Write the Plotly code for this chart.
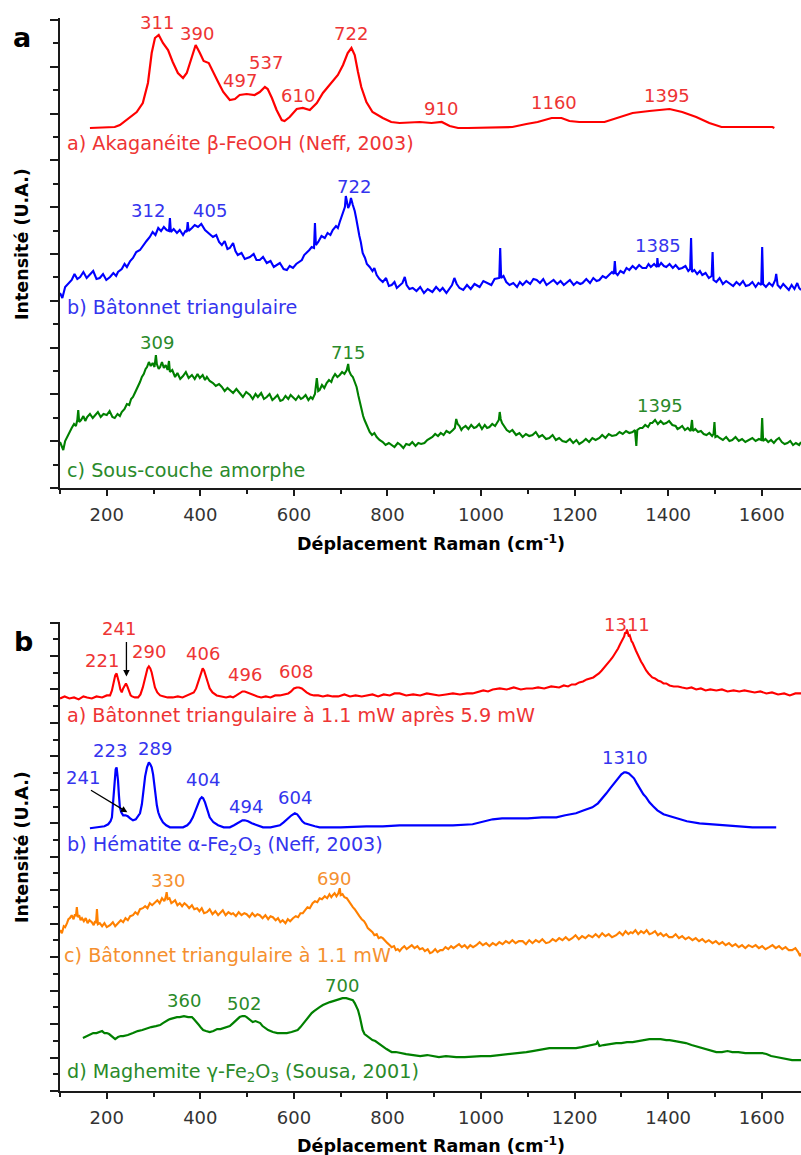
import plotly.graph_objects as go

# ---------------- data (Raman shift cm-1, intensity a.u.) ----------------
# Panel a
A_AKAGANEITE = [
    [164, 360], [217, 361], [228, 363], [249, 371], [264, 376], [277, 385], [288, 405], [296, 435],
    [303, 450], [311, 453], [320, 445], [331, 438], [341, 426], [352, 415], [363, 410], [371, 415],
    [382, 431], [390, 443], [399, 435], [407, 427], [418, 425], [427, 416], [438, 406], [449, 396],
    [463, 388], [474, 389], [484, 393], [499, 394], [516, 393], [527, 396], [538, 401], [544, 399],
    [553, 390], [563, 378], [574, 368], [580, 367], [591, 371], [606, 379], [619, 380], [634, 378],
    [649, 385], [662, 395], [677, 403], [694, 413], [705, 423], [715, 435], [723, 440], [730, 433],
    [737, 416], [744, 401], [755, 386], [768, 376], [790, 370], [808, 366], [826, 365], [869, 366],
    [894, 365], [916, 366], [933, 362], [951, 360], [972, 360], [1067, 361], [1097, 364], [1121, 366],
    [1151, 370], [1172, 370], [1189, 367], [1210, 366], [1264, 366], [1289, 370], [1324, 375],
    [1360, 377], [1403, 379], [1430, 376], [1460, 371], [1488, 365], [1514, 361], [1623, 361], [1627, 360],
]

A_BATONNET = [
    [100, 195], [105, 190], [111, 201], [117, 204], [125, 208], [131, 214], [137, 209], [143, 211],
    [150, 216], [157, 210], [164, 213], [171, 217], [178, 209], [185, 210], [192, 214], [199, 208],
    [207, 211], [214, 215], [220, 212], [224, 216], [232, 219], [238, 224], [243, 221], [250, 227],
    [256, 230], [263, 236], [271, 238], [278, 243], [285, 247], [292, 251], [298, 256], [304, 253],
    [310, 260], [316, 257], [322, 261], [328, 258], [333, 257], [335, 270], [337, 256], [343, 259],
    [350, 255], [356, 258], [363, 253], [368, 257], [371, 256], [373, 266], [375, 257], [382, 260],
    [388, 263], [395, 261], [402, 264], [410, 258], [418, 255], [427, 251], [434, 253], [440, 246],
    [446, 243], [452, 247], [458, 239], [463, 240], [470, 245], [475, 237], [480, 233], [488, 235],
    [495, 229], [506, 231], [514, 234], [520, 228], [527, 228], [534, 231], [542, 225], [550, 227],
    [557, 221], [563, 223], [570, 225], [578, 219], [585, 218], [591, 222], [598, 220], [605, 224],
    [611, 226], [617, 228], [622, 233], [627, 235], [633, 238], [638, 241], [643, 240], [645, 265],
    [647, 243], [652, 246], [659, 252], [666, 250], [672, 255], [678, 253], [683, 258], [690, 262],
    [694, 260], [698, 266], [703, 272], [706, 276], [709, 281], [711, 292], [713, 288], [716, 280],
    [719, 283], [722, 290], [726, 283], [730, 277], [733, 270], [736, 261], [740, 252], [743, 246],
    [747, 235], [752, 230], [756, 224], [762, 221], [768, 217], [772, 220], [777, 213], [783, 209],
    [790, 206], [797, 210], [803, 202], [809, 203], [815, 206], [820, 200], [826, 203], [832, 205],
    [837, 211], [841, 203], [847, 199], [854, 200], [862, 197], [870, 201], [878, 195], [886, 199],
    [896, 196], [904, 201], [912, 197], [918, 200], [926, 195], [932, 199], [938, 203], [943, 210],
    [948, 204], [954, 200], [962, 198], [970, 203], [978, 199], [986, 204], [997, 201], [1005, 207],
    [1014, 205], [1022, 203], [1029, 209], [1036, 210], [1039, 210], [1041, 240], [1043, 210],
    [1048, 212], [1054, 206], [1061, 203], [1069, 205], [1077, 201], [1083, 206], [1089, 203],
    [1097, 207], [1105, 204], [1112, 209], [1119, 208], [1126, 205], [1133, 209], [1140, 203],
    [1146, 205], [1155, 208], [1163, 204], [1170, 207], [1177, 203], [1182, 205], [1190, 208],
    [1198, 203], [1205, 206], [1212, 204], [1217, 205], [1225, 209], [1233, 205], [1240, 210],
    [1247, 207], [1253, 208], [1260, 212], [1267, 210], [1274, 213], [1280, 216], [1284, 214],
    [1286, 227], [1288, 215], [1292, 213], [1298, 217], [1305, 215], [1311, 220], [1317, 218],
    [1324, 222], [1331, 219], [1338, 223], [1345, 220], [1353, 220], [1358, 224], [1363, 221],
    [1370, 224], [1376, 221], [1377, 230], [1379, 221], [1385, 225], [1391, 222], [1396, 221],
    [1403, 224], [1410, 220], [1416, 223], [1423, 219], [1430, 220], [1437, 222], [1443, 217],
    [1447, 219], [1449, 250], [1451, 216], [1456, 218], [1462, 214], [1468, 217], [1473, 213],
    [1480, 215], [1487, 210], [1493, 212], [1495, 236], [1497, 208], [1503, 206], [1510, 210],
    [1517, 204], [1524, 207], [1531, 205], [1539, 202], [1546, 206], [1553, 203], [1560, 207],
    [1566, 202], [1573, 203], [1580, 206], [1587, 201], [1593, 205], [1599, 203], [1601, 241],
    [1603, 204], [1609, 201], [1616, 205], [1623, 202], [1629, 208], [1631, 214], [1634, 203],
    [1640, 200], [1646, 204], [1652, 201], [1658, 198], [1664, 203], [1670, 199], [1676, 205],
    [1680, 200], [1684, 198],
]

A_SOUS_COUCHE = [
    [100, 46], [104, 40], [107, 38], [111, 47], [115, 51], [120, 56], [125, 60], [130, 64], [134, 62],
    [137, 68], [139, 78], [141, 66], [145, 68], [150, 72], [154, 67], [158, 71], [164, 74], [170, 70],
    [175, 73], [181, 76], [187, 71], [193, 74], [200, 73], [206, 77], [212, 71], [217, 70], [223, 74],
    [228, 72], [232, 76], [238, 79], [243, 84], [248, 83], [252, 89], [256, 91], [260, 95], [264, 99],
    [267, 101], [271, 106], [275, 111], [279, 114], [283, 119], [286, 121], [290, 126], [294, 122],
    [298, 125], [302, 121], [305, 133], [307, 124], [311, 119], [314, 121], [318, 126], [322, 120],
    [326, 123], [330, 118], [333, 127], [335, 116], [340, 118], [346, 111], [351, 115], [357, 109],
    [363, 112], [369, 116], [375, 110], [382, 113], [388, 109], [394, 114], [399, 110], [405, 113],
    [410, 108], [414, 111], [420, 107], [427, 105], [433, 102], [440, 104], [446, 101], [452, 97],
    [458, 100], [463, 98], [470, 95], [477, 99], [484, 95], [491, 91], [498, 96], [506, 93], [512, 89],
    [518, 94], [523, 91], [530, 95], [536, 89], [542, 91], [548, 94], [554, 88], [559, 90], [565, 93],
    [571, 87], [576, 88], [582, 92], [588, 89], [593, 93], [598, 91], [604, 88], [610, 92], [615, 89],
    [619, 90], [625, 93], [631, 88], [636, 91], [640, 89], [645, 94], [649, 110], [652, 97], [655, 98],
    [660, 103], [665, 100], [670, 105], [675, 108], [680, 106], [683, 110], [688, 114], [693, 111],
    [698, 113], [703, 116], [708, 114], [713, 118], [716, 124], [718, 117], [722, 113], [726, 111],
    [730, 105], [734, 101], [738, 92], [741, 85], [745, 78], [748, 72], [751, 68], [755, 63], [759, 60],
    [762, 56], [767, 53], [772, 55], [777, 51], [783, 48], [790, 46], [796, 43], [803, 45], [809, 43],
    [815, 41], [822, 45], [828, 43], [834, 40], [840, 44], [847, 43], [853, 46], [860, 42], [866, 45],
    [872, 44], [879, 45], [885, 48], [890, 49], [896, 51], [902, 54], [908, 52], [914, 55], [920, 53],
    [926, 57], [933, 55], [940, 58], [944, 60], [947, 69], [950, 64], [954, 62], [958, 58], [961, 60],
    [967, 62], [973, 59], [979, 63], [985, 60], [990, 61], [996, 64], [1002, 59], [1008, 63], [1013, 60],
    [1018, 61], [1024, 64], [1030, 62], [1035, 66], [1038, 68], [1040, 76], [1042, 69], [1045, 65],
    [1050, 61], [1055, 58], [1061, 56], [1067, 58], [1075, 53], [1082, 55], [1089, 51], [1096, 54],
    [1103, 52], [1110, 53], [1117, 56], [1124, 51], [1131, 53], [1139, 49], [1146, 50], [1153, 53],
    [1160, 48], [1167, 50], [1174, 47], [1182, 46], [1190, 49], [1197, 45], [1204, 48], [1210, 44],
    [1217, 46], [1224, 49], [1231, 46], [1238, 50], [1245, 48], [1253, 50], [1259, 53], [1266, 50],
    [1273, 54], [1280, 52], [1289, 53], [1296, 56], [1303, 54], [1310, 57], [1317, 55], [1324, 56],
    [1329, 58], [1332, 42], [1334, 58], [1340, 60], [1345, 60], [1351, 63], [1357, 61], [1362, 65],
    [1366, 65], [1372, 68], [1378, 64], [1384, 67], [1390, 64], [1396, 65], [1402, 67], [1409, 63],
    [1416, 62], [1420, 59], [1424, 60], [1430, 62], [1436, 58], [1442, 60], [1448, 57], [1451, 68],
    [1453, 57], [1458, 59], [1464, 56], [1470, 57], [1476, 54], [1482, 53], [1488, 55], [1494, 52],
    [1497, 54], [1499, 66], [1501, 51], [1505, 52], [1510, 50], [1517, 48], [1524, 51], [1531, 47],
    [1537, 48], [1544, 51], [1551, 47], [1558, 49], [1565, 46], [1573, 48], [1580, 50], [1587, 47],
    [1594, 49], [1599, 48], [1601, 70], [1603, 47], [1608, 49], [1614, 46], [1620, 48], [1626, 45],
    [1631, 48], [1637, 50], [1643, 46], [1649, 44], [1655, 45], [1661, 47], [1667, 43], [1673, 45],
    [1680, 43], [1684, 46],
]

# Panel b
B_APRES = [
    [100, 393], [110, 395], [120, 393], [130, 394], [140, 392], [150, 395], [158, 394], [168, 393],
    [178, 395], [190, 394], [200, 396], [207, 396], [211, 401], [215, 411], [218, 416], [221, 418],
    [223, 415], [226, 409], [229, 402], [232, 399], [235, 403], [238, 406], [241, 408], [244, 405],
    [247, 400], [251, 396], [254, 395], [260, 394], [267, 394], [272, 397], [277, 404], [281, 412],
    [284, 418], [287, 423], [290, 425], [293, 423], [296, 419], [299, 412], [303, 404], [308, 399],
    [314, 396], [322, 395], [330, 394], [341, 394], [352, 395], [362, 394], [372, 396], [380, 397],
    [386, 399], [391, 403], [395, 409], [399, 416], [402, 420], [405, 423], [408, 421], [412, 416],
    [416, 409], [420, 403], [426, 399], [435, 396], [445, 395], [455, 394], [464, 395], [470, 394],
    [477, 396], [484, 398], [490, 400], [495, 400], [500, 399], [506, 398], [514, 396], [522, 395],
    [530, 394], [540, 395], [550, 394], [560, 396], [570, 396], [580, 397], [588, 398], [594, 400],
    [600, 403], [606, 404], [611, 404], [617, 403], [622, 401], [627, 399], [635, 397], [643, 396],
    [652, 396], [662, 395], [672, 396], [683, 395], [695, 395], [708, 397], [720, 395], [732, 396],
    [745, 395], [755, 396], [768, 397], [780, 395], [792, 397], [805, 396], [815, 398], [826, 398],
    [840, 396], [855, 397], [870, 396], [884, 398], [896, 397], [910, 396], [925, 397], [940, 398],
    [955, 397], [970, 398], [982, 398], [995, 400], [1005, 401], [1015, 400], [1025, 402], [1040, 403],
    [1055, 402], [1070, 404], [1085, 402], [1097, 403], [1110, 403], [1122, 404], [1135, 403],
    [1150, 405], [1160, 404], [1167, 404], [1177, 406], [1186, 405], [1194, 407], [1202, 407],
    [1210, 409], [1218, 410], [1226, 412], [1233, 413], [1240, 414], [1246, 416], [1252, 418],
    [1258, 421], [1264, 424], [1270, 428], [1276, 431], [1281, 434], [1285, 437], [1289, 439],
    [1293, 443], [1297, 447], [1300, 450], [1303, 452], [1306, 455], [1308, 459], [1310, 458],
    [1312, 462], [1314, 457], [1316, 455], [1318, 456], [1320, 452], [1322, 450], [1324, 449],
    [1327, 445], [1331, 441], [1334, 438], [1338, 433], [1342, 430], [1346, 427], [1349, 424],
    [1353, 421], [1358, 418], [1362, 416], [1366, 414], [1372, 413], [1378, 411], [1384, 410],
    [1390, 408], [1396, 408], [1403, 406], [1412, 405], [1421, 405], [1430, 404], [1440, 403],
    [1450, 404], [1460, 402], [1470, 403], [1480, 401], [1490, 402], [1503, 401], [1515, 402],
    [1527, 400], [1540, 401], [1552, 400], [1563, 401], [1573, 400], [1585, 399], [1597, 400],
    [1610, 398], [1622, 399], [1635, 397], [1648, 398], [1660, 396], [1672, 398], [1684, 398],
]

B_HEMATITE = [
    [164, 263], [180, 264], [195, 265], [203, 267], [208, 270], [211, 274], [213, 285], [215, 304],
    [217, 316], [219, 322], [221, 324], [222, 321], [224, 311], [226, 296], [228, 284], [231, 279],
    [235, 276], [240, 276], [245, 275], [250, 273], [256, 271], [262, 272], [267, 275], [271, 278],
    [275, 287], [279, 304], [282, 315], [286, 324], [288, 328], [290, 329], [293, 327], [296, 324],
    [299, 317], [303, 298], [307, 286], [310, 279], [314, 274], [320, 269], [327, 266], [335, 264],
    [350, 264], [363, 264], [372, 266], [378, 269], [384, 274], [390, 281], [395, 288], [399, 292],
    [403, 294], [406, 293], [410, 289], [415, 281], [420, 274], [428, 269], [438, 266], [450, 264],
    [463, 264], [472, 266], [479, 268], [484, 269], [490, 271], [495, 271], [502, 270], [510, 268],
    [520, 266], [534, 264], [550, 264], [562, 265], [570, 266], [578, 269], [587, 273], [595, 276],
    [602, 278], [607, 277], [612, 274], [618, 270], [623, 268], [635, 266], [645, 265], [655, 264],
    [700, 264], [755, 265], [790, 265], [826, 266], [860, 266], [890, 266], [940, 266], [982, 267],
    [1000, 269], [1015, 271], [1025, 272], [1045, 273], [1061, 273], [1100, 273], [1130, 274],
    [1161, 274], [1180, 276], [1203, 278], [1220, 281], [1238, 284], [1250, 288], [1260, 293],
    [1268, 298], [1276, 303], [1284, 308], [1292, 313], [1300, 317], [1306, 319], [1310, 319],
    [1316, 318], [1322, 315], [1327, 313], [1333, 308], [1340, 302], [1347, 297], [1353, 294],
    [1360, 289], [1368, 285], [1377, 281], [1390, 277], [1403, 275], [1417, 273], [1440, 270],
    [1467, 268], [1500, 267], [1537, 266], [1560, 265], [1580, 264], [1631, 264],
]

B_BATONNET = [
    [100, 161], [104, 158], [108, 165], [111, 164], [115, 168], [118, 172], [121, 173], [125, 176],
    [129, 172], [132, 177], [134, 175], [136, 184], [138, 174], [141, 176], [144, 171], [147, 173],
    [151, 170], [155, 173], [159, 168], [163, 171], [168, 169], [172, 166], [175, 170], [177, 168],
    [179, 182], [181, 167], [185, 168], [190, 165], [195, 168], [200, 164], [207, 166], [213, 169],
    [218, 165], [224, 168], [230, 171], [235, 169], [240, 173], [245, 171], [250, 175], [256, 176],
    [261, 179], [266, 177], [271, 182], [277, 183], [282, 185], [287, 183], [292, 188], [297, 186],
    [303, 189], [308, 191], [313, 188], [318, 193], [323, 190], [326, 194], [328, 199], [330, 192],
    [334, 193], [338, 188], [341, 189], [346, 191], [351, 186], [356, 188], [361, 185], [366, 188],
    [371, 186], [376, 183], [382, 186], [387, 182], [393, 183], [398, 180], [403, 183], [408, 178],
    [414, 179], [420, 182], [426, 177], [432, 180], [438, 176], [442, 178], [448, 181], [454, 176],
    [460, 179], [466, 177], [470, 178], [476, 175], [482, 179], [488, 176], [494, 178], [499, 177],
    [505, 174], [511, 178], [517, 175], [522, 177], [527, 176], [533, 173], [539, 176], [545, 172],
    [550, 175], [555, 174], [561, 171], [566, 173], [571, 169], [576, 171], [582, 168], [587, 172],
    [592, 170], [598, 173], [604, 175], [609, 174], [614, 178], [619, 178], [624, 181], [629, 184],
    [634, 183], [640, 188], [645, 190], [650, 189], [655, 193], [660, 192], [666, 195], [671, 193],
    [676, 197], [680, 194], [683, 196], [687, 198], [691, 195], [695, 198], [698, 203], [700, 196],
    [704, 197], [708, 194], [713, 193], [717, 190], [721, 188], [726, 184], [730, 182], [735, 178],
    [740, 175], [745, 172], [750, 170], [754, 167], [758, 163], [763, 161], [768, 159], [772, 156],
    [777, 157], [781, 153], [786, 154], [790, 153], [795, 150], [800, 148], [805, 146], [809, 144],
    [814, 145], [818, 141], [822, 142], [826, 140], [831, 143], [836, 145], [841, 142], [847, 144],
    [852, 146], [858, 143], [864, 145], [869, 142], [875, 143], [880, 140], [886, 142], [891, 138],
    [896, 139], [902, 142], [907, 139], [913, 141], [918, 141], [924, 144], [930, 142], [936, 145],
    [941, 143], [947, 145], [953, 147], [959, 144], [965, 146], [971, 143], [977, 146], [983, 144],
    [990, 146], [997, 149], [1004, 146], [1011, 148], [1018, 145], [1025, 148], [1032, 146],
    [1039, 149], [1046, 147], [1053, 150], [1060, 148], [1067, 151], [1074, 148], [1081, 150],
    [1089, 150], [1096, 147], [1103, 151], [1110, 148], [1117, 151], [1124, 149], [1131, 152],
    [1139, 148], [1146, 149], [1153, 152], [1160, 150], [1167, 153], [1174, 151], [1181, 154],
    [1188, 151], [1195, 153], [1202, 156], [1209, 152], [1216, 155], [1223, 153], [1230, 156],
    [1238, 154], [1245, 157], [1252, 154], [1259, 158], [1266, 155], [1273, 157], [1280, 154],
    [1289, 156], [1296, 159], [1303, 156], [1309, 160], [1315, 157], [1320, 159], [1324, 158],
    [1330, 161], [1336, 157], [1342, 160], [1348, 158], [1354, 161], [1360, 157], [1366, 158],
    [1372, 160], [1378, 156], [1384, 158], [1390, 155], [1396, 157], [1402, 154], [1409, 154],
    [1416, 157], [1423, 153], [1430, 155], [1437, 152], [1444, 154], [1452, 151], [1459, 153],
    [1466, 150], [1473, 152], [1480, 149], [1487, 151], [1495, 148], [1502, 150], [1509, 147],
    [1516, 149], [1523, 146], [1530, 148], [1537, 145], [1544, 147], [1551, 144], [1558, 146],
    [1565, 143], [1572, 146], [1580, 144], [1587, 146], [1594, 143], [1601, 145], [1608, 142],
    [1616, 144], [1623, 146], [1630, 143], [1637, 145], [1644, 142], [1651, 144], [1658, 141],
    [1665, 141], [1672, 143], [1678, 139], [1682, 135], [1684, 138],
]

B_MAGHEMITE = [
    [149, 53], [158, 55], [165, 57], [171, 58], [178, 58], [185, 59], [190, 60], [195, 58], [200, 58],
    [205, 57], [210, 55], [214, 53], [218, 52], [224, 54], [230, 55], [235, 55], [245, 56], [256, 58],
    [266, 60], [276, 61], [286, 63], [295, 64], [305, 65], [314, 66], [320, 68], [326, 70], [331, 71],
    [335, 72], [342, 73], [350, 74], [356, 74], [365, 75], [374, 74], [382, 74], [386, 72], [390, 70],
    [393, 69], [397, 66], [402, 63], [406, 61], [412, 60], [420, 59], [428, 60], [436, 62], [443, 62],
    [449, 63], [456, 64], [463, 65], [470, 68], [475, 70], [480, 72], [484, 74], [490, 75], [495, 75],
    [499, 74], [504, 72], [508, 70], [512, 69], [518, 70], [523, 69], [528, 68], [533, 65], [538, 63],
    [545, 61], [555, 59], [565, 58], [575, 58], [585, 58], [595, 59], [602, 60], [608, 61], [614, 64],
    [619, 67], [623, 69], [628, 72], [633, 75], [638, 78], [643, 80], [648, 82], [655, 84], [662, 86],
    [670, 88], [677, 89], [684, 90], [691, 91], [697, 92], [704, 93], [712, 93], [720, 92], [726, 91],
    [730, 88], [734, 84], [737, 81], [741, 74], [744, 67], [747, 61], [751, 57], [756, 55], [762, 53],
    [768, 51], [774, 50], [777, 49], [783, 47], [790, 44], [798, 42], [805, 40], [809, 39], [818, 39],
    [826, 38], [840, 37], [855, 36], [870, 35], [885, 36], [896, 35], [910, 34], [925, 35], [947, 34],
    [965, 34], [985, 35], [1000, 35], [1020, 35], [1040, 36], [1054, 37], [1068, 37], [1080, 38],
    [1097, 39], [1110, 40], [1122, 41], [1135, 42], [1146, 43], [1160, 43], [1175, 43], [1190, 43],
    [1203, 43], [1215, 44], [1228, 45], [1240, 46], [1246, 47], [1249, 49], [1251, 47], [1253, 45],
    [1262, 46], [1275, 47], [1289, 48], [1300, 48], [1312, 49], [1324, 49], [1336, 50], [1348, 51],
    [1360, 52], [1372, 52], [1384, 52], [1396, 51], [1403, 51], [1415, 50], [1427, 49], [1438, 48],
    [1450, 46], [1458, 45], [1467, 44], [1478, 42], [1490, 41], [1503, 39], [1515, 39], [1527, 40],
    [1537, 39], [1550, 39], [1565, 38], [1580, 38], [1590, 38], [1601, 38], [1610, 37], [1620, 35],
    [1631, 34], [1642, 33], [1653, 32], [1665, 31], [1675, 31], [1684, 31],
]

# peak labels (text, Raman shift of label, intensity of label)
A_PEAKS_RED = [["311", 308, 466], ["390", 393, 455], ["497", 485, 408], ["537", 541, 426],
               ["610", 609, 393], ["722", 723, 455], ["910", 915, 380], ["1160", 1157, 386],
               ["1395", 1398, 393]]
A_PEAKS_BLUE = [["312", 289, 278], ["405", 421, 278], ["722", 729, 302], ["1385", 1379, 243]]
A_PEAKS_GREEN = [["309", 308, 146], ["715", 716, 136], ["1395", 1383, 83]]
B_PEAKS_RED = [["221", 190, 431], ["241", 227, 463], ["290", 291, 440], ["406", 406, 438],
               ["496", 496, 417], ["608", 605, 420], ["1311", 1312, 467]]
B_PEAKS_BLUE = [["223", 207, 341], ["289", 304, 343], ["241", 150, 314], ["404", 406, 312],
                ["494", 498, 285], ["604", 603, 294], ["1310", 1308, 334]]
B_PEAKS_ORANGE = [["330", 330, 211], ["690", 686, 213]]
B_PEAKS_GREEN = [["360", 366, 91], ["502", 494, 88], ["700", 702, 106]]

A_NAMES = ["a) Akaganéite β-FeOOH (Neff, 2003)", "b) Bâtonnet triangulaire", "c) Sous-couche amorphe"]
B_NAMES = ["a) Bâtonnet triangulaire à 1.1 mW après 5.9 mW",
           "b) Hématite α-Fe<sub>2</sub>O<sub>3</sub> (Neff, 2003)",
           "c) Bâtonnet triangulaire à 1.1 mW",
           "d) Maghemite γ-Fe<sub>2</sub>O<sub>3</sub> (Sousa, 2001)"]

# ---------------- figure ----------------
W, H = 801, 1155
FONT = "DejaVu Sans"
RED, BLUE, GREEN, ORANGE = "#FF0000", "#0000FF", "#008000", "#FF8000"
RED_T, BLUE_T, GREEN_T, ORANGE_T = "#EE3434", "#3434EE", "#2A8A2A", "#F5902F"


def pxx(x):
    return x / W


def pxy(y):
    return 1 - y / H


fig = go.Figure()


def add_series(data, color, xa, ya, width=2):
    xs = [p[0] for p in data]
    ys = [p[1] for p in data]
    fig.add_trace(go.Scatter(x=xs, y=ys, mode="lines", xaxis=xa, yaxis=ya,
                             line=dict(color=color, width=width), showlegend=False,
                             hoverinfo="skip"))


add_series(A_AKAGANEITE, RED, "x", "y", 2.2)
add_series(A_BATONNET, BLUE, "x", "y", 2.1)
add_series(A_SOUS_COUCHE, GREEN, "x", "y", 2.1)
add_series(B_APRES, RED, "x2", "y2", 2.1)
add_series(B_HEMATITE, BLUE, "x2", "y2", 2.2)
add_series(B_BATONNET, ORANGE, "x2", "y2", 2.1)
add_series(B_MAGHEMITE, GREEN, "x2", "y2", 2.2)

ann = []


def label(text, x, y, color, xr, yr, xanchor="center", size=18):
    ann.append(dict(text=text, x=x, y=y, xref=xr, yref=yr, showarrow=False,
                    xanchor=xanchor, yanchor="middle",
                    font=dict(family=FONT, size=size, color=color)))


for peaks, col in [(A_PEAKS_RED, RED_T), (A_PEAKS_BLUE, BLUE_T), (A_PEAKS_GREEN, GREEN_T)]:
    for t, x, y in peaks:
        label(t, x, y, col, "x", "y")
for peaks, col in [(B_PEAKS_RED, RED_T), (B_PEAKS_BLUE, BLUE_T), (B_PEAKS_ORANGE, ORANGE_T),
                   (B_PEAKS_GREEN, GREEN_T)]:
    for t, x, y in peaks:
        label(t, x, y, col, "x2", "y2")

NS = 19.2
label(A_NAMES[0], 111, 345, RED_T, "x", "y", "left", NS)
label(A_NAMES[1], 111, 181, BLUE_T, "x", "y", "left", NS)
label(A_NAMES[2], 111, 18, GREEN_T, "x", "y", "left", NS)
label(B_NAMES[0], 111, 376, RED_T, "x2", "y2", "left", NS)
label(B_NAMES[1], 111, 246, BLUE_T, "x2", "y2", "left", NS)
label(B_NAMES[2], 105, 136, ORANGE_T, "x2", "y2", "left", NS)
label(B_NAMES[3], 111, 19, GREEN_T, "x2", "y2", "left", NS)

# arrows pointing at 241 shoulders
for (hx, hy, tx, ty) in [(242, 415, 242, 451), (244, 279, 163, 302)]:
    ann.append(dict(text="", x=hx, y=hy, ax=tx, ay=ty, xref="x2", yref="y2", axref="x2", ayref="y2",
                    showarrow=True, arrowhead=2, arrowsize=1, arrowwidth=1.3, arrowcolor="black",
                    standoff=0, startstandoff=0))

# titles and panel letters
for yc in (244, 847):
    ann.append(dict(text="<b>Intensité (U.A.)</b>", x=pxx(22), y=pxy(yc), xref="paper", yref="paper",
                    showarrow=False, textangle=-90, xanchor="center", yanchor="middle",
                    font=dict(family=FONT, size=17.5, color="black")))
for yc in (543, 1145):
    ann.append(dict(text="<b>Déplacement Raman (cm<sup>-1</sup>)</b>", x=pxx(431), y=pxy(yc),
                    xref="paper", yref="paper", showarrow=False, xanchor="center", yanchor="middle",
                    font=dict(family=FONT, size=17.5, color="black")))
ann.append(dict(text="<b>a</b>", x=pxx(22), y=pxy(38), xref="paper", yref="paper", showarrow=False,
                xanchor="center", yanchor="middle", font=dict(family=FONT, size=27, color="black")))
ann.append(dict(text="<b>b</b>", x=pxx(23), y=pxy(641), xref="paper", yref="paper", showarrow=False,
                xanchor="center", yanchor="middle", font=dict(family=FONT, size=27, color="black")))

AXC = "#1a1a1a"
xcommon = dict(range=[100, 1684], showgrid=False, zeroline=False, showline=True, linecolor=AXC,
               linewidth=1.6, ticks="outside", ticklen=6, tickwidth=1.5, tickcolor=AXC,
               tick0=200, dtick=200, ticklabelstandoff=4,
               tickfont=dict(family=FONT, size=18, color="#333333"),
               minor=dict(ticks="outside", ticklen=4, tickwidth=1.5, tickcolor=AXC, tick0=100, dtick=100),
               domain=[pxx(60), 1.0])
ycommon = dict(showgrid=False, zeroline=False, showline=True, linecolor=AXC, linewidth=1.6,
               ticks="outside", ticklen=8, tickwidth=1.5, tickcolor=AXC, showticklabels=False,
               tick0=0)

fig.update_layout(
    width=W, height=H, margin=dict(l=0, r=0, t=0, b=0),
    paper_bgcolor="white", plot_bgcolor="white",
    xaxis=dict(**xcommon, anchor="y"),
    yaxis=dict(**ycommon, anchor="x", range=[0, 470], dtick=46.8,
               minor=dict(ticks="outside", ticklen=5, tickwidth=1.5, tickcolor=AXC, tick0=0, dtick=23.4),
               domain=[pxy(488), pxy(18)]),
    xaxis2=dict(**xcommon, anchor="y2"),
    yaxis2=dict(**ycommon, anchor="x2", range=[0, 469.5], dtick=33.5,
                minor=dict(ticks="outside", ticklen=5, tickwidth=1.5, tickcolor=AXC, tick0=0, dtick=16.75),
                domain=[pxy(1091), pxy(622)]),
    annotations=ann,
)

fig.write_html("out.html")
